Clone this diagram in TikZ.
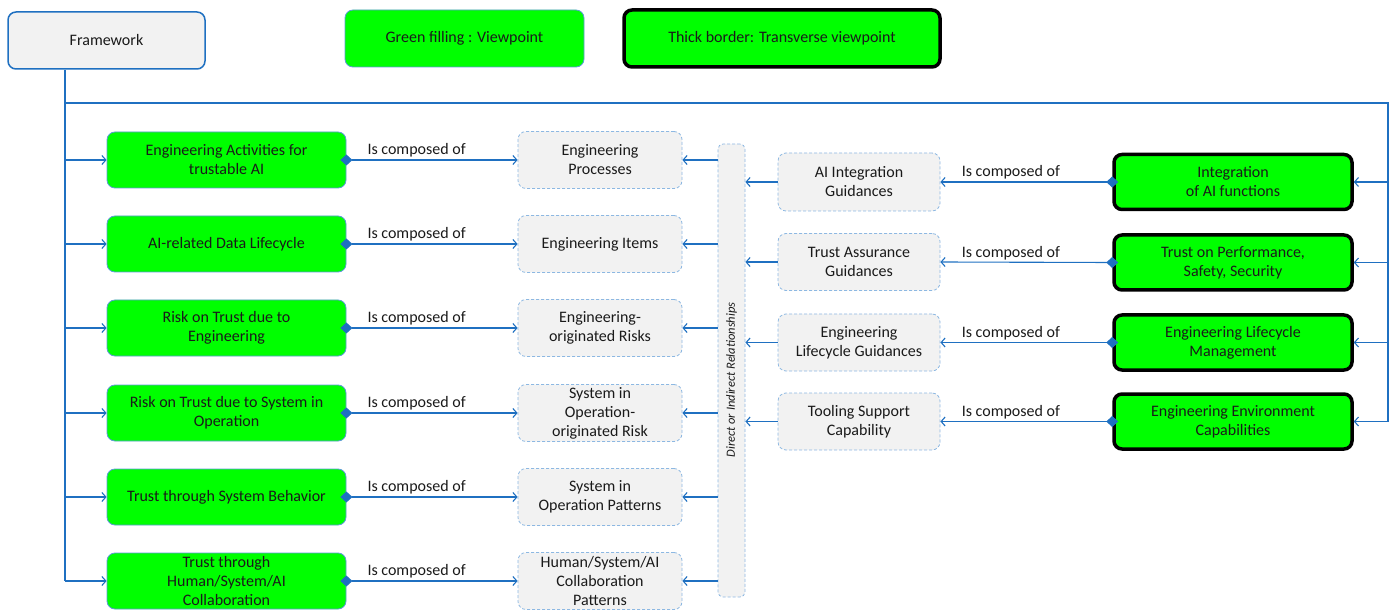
\documentclass[tikz,border=0pt]{standalone}
\usepackage{fontspec}
\setmainfont{Carlito}
\usetikzlibrary{arrows.meta,positioning}
\definecolor{linkblue}{HTML}{1F70C1}
\definecolor{edgeblue}{HTML}{5B9BD5}
\definecolor{dashblue}{HTML}{8DB8E2}
\definecolor{vpgreen}{HTML}{00FF00}
\definecolor{boxgrey}{HTML}{F2F2F2}
\definecolor{ink}{HTML}{1A1A1A}
\tikzset{
  basebox/.style={rounded corners=8pt, align=center, text=ink,
    font=\fontsize{16}{19}\selectfont, inner sep=2pt},
  viewpoint/.style={basebox, fill=vpgreen, draw=edgeblue, line width=0.8pt,
    minimum width=239pt, minimum height=56pt},
  transverse/.style={basebox, fill=vpgreen, draw=black, line width=3.5pt,
    minimum width=238pt, minimum height=55pt},
  element/.style={basebox, fill=boxgrey, draw=dashblue, densely dashed,
    line width=0.8pt, minimum height=57pt},
  frame/.style={basebox, fill=boxgrey, draw=linkblue, line width=1.5pt,
    minimum width=197pt, minimum height=57pt},
  link/.style={draw=linkblue, line width=1.1pt},
  arr/.style={link, -{Straight Barb[length=4pt,width=9pt,line width=1.1pt]}},
  comp/.style={link, {Diamond[length=12pt,width=11pt,fill=linkblue]}-{Straight Barb[length=4pt,width=9pt,line width=1.1pt]},
    shorten <=-6pt},
  lbl/.style={font=\fontsize{16}{18}\selectfont, text=ink, inner sep=2pt},
}
\begin{document}
\begin{tikzpicture}[x=1pt,y=-1pt]
\useasboundingbox (0,0) rectangle (1395,612);

% header: framework root and legend
\node[frame] (fw) at (106.5,40.5) {Framework};
\node[viewpoint, minimum width=239pt, minimum height=57pt] (leg1) at (464.5,38.5) {Green filling : Viewpoint};
\node[transverse, minimum width=316pt, minimum height=57pt] (leg2) at (782,38.5) {Thick border: Transverse viewpoint};

% left column: viewpoints
\node[viewpoint] (l1) at (226.5,160) {Engineering Activities for\\trustable AI};
\node[viewpoint] (l2) at (226.5,244) {AI-related Data Lifecycle};
\node[viewpoint] (l3) at (226.5,328) {Risk on Trust due to\\Engineering};
\node[viewpoint] (l4) at (226.5,413) {Risk on Trust due to System in\\Operation};
\node[viewpoint] (l5) at (226.5,497) {Trust through System Behavior};
\node[viewpoint] (l6) at (226.5,581) {Trust through\\Human/System/AI\\Collaboration};

% engineering elements
\node[element, minimum width=164pt] (g1) at (600,160) {Engineering\\Processes};
\node[element, minimum width=164pt] (g2) at (600,244) {Engineering Items};
\node[element, minimum width=164pt] (g3) at (600,328) {Engineering-\\originated Risks};
\node[element, minimum width=164pt] (g4) at (600,413) {System in\\Operation-\\originated Risk};
\node[element, minimum width=164pt] (g5) at (600,497) {System in\\Operation Patterns};
\node[element, minimum width=164pt] (g6) at (600,581) {Human/System/AI\\Collaboration\\Patterns};

% relationship bar
\node[element, rounded corners=5pt, minimum width=27pt, minimum height=453pt] (bar) at (731.5,370.5) {};
\node[lbl, font=\itshape\fontsize{12.5}{14}\selectfont, rotate=90] (rel) at (731.5,380) {Direct or Indirect Relationships};

% guidance elements
\node[element, minimum width=162pt, minimum height=58pt] (m1) at (859,182) {AI Integration\\Guidances};
\node[element, minimum width=162pt, minimum height=57pt] (m2) at (859,262) {Trust Assurance\\Guidances};
\node[element, minimum width=162pt, minimum height=57pt] (m3) at (859,342.5) {Engineering\\Lifecycle Guidances};
\node[element, minimum width=162pt, minimum height=57pt] (m4) at (859,421.5) {Tooling Support\\Capability};

% right column: transverse viewpoints
\node[transverse] (r1) at (1233,182) {Integration\\of AI functions};
\node[transverse] (r2) at (1233,262.5) {Trust on Performance,\\Safety, Security};
\node[transverse] (r3) at (1233,342.5) {Engineering Lifecycle\\Management};
\node[transverse] (r4) at (1233,421.5) {Engineering Environment\\Capabilities};

% trunk lines from the framework
\coordinate (lx) at (65,0);
\coordinate (top) at (1388,103);
\draw[link] (fw.south -| lx) -- (l6.west -| lx);
\draw[link] (top -| lx) -- (top) -- (r4.east -| top);
\foreach \n in {l1,l2,l3,l4,l5,l6}
  \draw[arr] (\n.west -| lx) -- (\n.west);
\foreach \n in {r1,r2,r3,r4}
  \draw[arr] (\n.east -| top) -- (\n.east);

% composition links
\foreach \a/\b in {l1/g1,l2/g2,l3/g3,l4/g4,l5/g5,l6/g6}
  \draw[comp] (\a.east) -- node[lbl, above, pos=0.41] (c\a) {Is composed of} (\b.west);
\foreach \a/\b in {r1/m1,r2/m2,r3/m3,r4/m4}
  \draw[comp] (\a.west) -- node[lbl, above, pos=0.59] (c\a) {Is composed of} (\b.east);

% relationship links
\foreach \n in {g1,g2,g3,g4,g5,g6}
  \draw[arr] (bar.west |- \n.east) -- (\n.east);
\foreach \n in {m1,m2,m3,m4}
  \draw[arr] (\n.west) -- (\n.west -| bar.east);
\end{tikzpicture}
\end{document}
